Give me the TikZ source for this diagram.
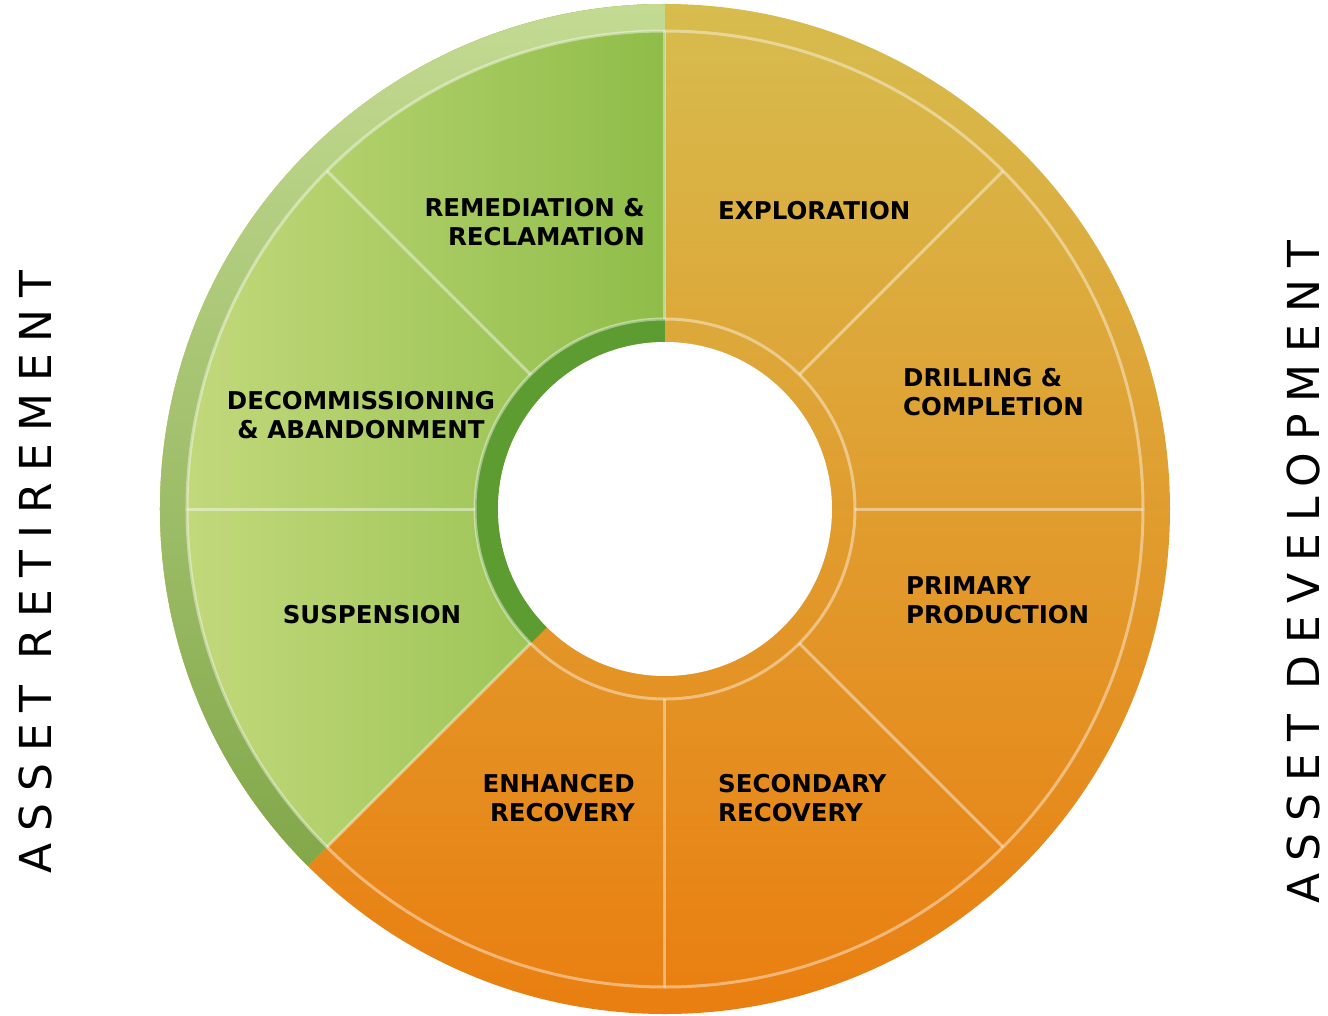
\documentclass[tikz,border=0pt]{standalone}
\usepackage{fontspec}
\setmainfont{DejaVu Sans}
\newfontfamily\sidefont[LetterSpace=27]{DejaVu Sans}
\definecolor{ortop}{HTML}{D7BC4E}
\definecolor{ormid}{HTML}{E2A030}
\definecolor{orbot}{HTML}{EA7E10}
\definecolor{grleft}{HTML}{C5DA7E}
\definecolor{grright}{HTML}{8FBD49}
\definecolor{rimtop}{HTML}{C3DA92}
\definecolor{rimbot}{HTML}{82A84A}
\definecolor{grdark}{HTML}{5C9C30}
\begin{document}
\begin{tikzpicture}[x=1pt,y=1pt,
  lab/.style={font=\fontsize{24.5}{29}\selectfont\bfseries, inner sep=0pt, text=black},
  sep/.style={white, opacity=0.42, line width=3pt},
  side/.style={font=\sidefont\fontsize{44}{50}\selectfont, rotate=90, inner sep=0pt, text=black}]
\useasboundingbox (-665,-506) rectangle (663,509);
\coordinate (c) at (0,0);
% orange ring
\shade[top color=ortop, middle color=ormid, bottom color=orbot] (c) circle (505);
% green sector
\shade[left color=grleft, right color=grright] (c) -- (90:505) arc (90:225:505) -- cycle;
% green rim
\shade[top color=rimtop, bottom color=rimbot] (90:478) arc (90:225:478) -- (225:505) arc (225:90:505) -- cycle;
% dark green inner band
\fill[grdark] (90:167) arc (90:225:167) -- (225:190) arc (225:90:190) -- cycle;
% separators
\draw[sep] (c) circle (478);
\draw[sep] (c) circle (190);
\foreach \a in {0,45,...,315} \draw[sep] (\a:190) -- (\a:478);
% hole
\fill[white] (c) circle (167);
% labels
\node[lab, anchor=east, align=right] (rem) at (-20,287) {REMEDIATION \&\\RECLAMATION};
\node[lab, anchor=west, align=left] (exp) at (53,298) {EXPLORATION};
\node[lab, anchor=west, align=left] (dri) at (238,116.5) {DRILLING \&\\COMPLETION};
\node[lab, anchor=west, align=left] (pri) at (241,-91.5) {PRIMARY\\PRODUCTION};
\node[lab, anchor=west, align=left] (sec) at (53,-289) {SECONDARY\\RECOVERY};
\node[lab, anchor=east, align=right] (enh) at (-30,-289) {ENHANCED\\RECOVERY};
\node[lab] (sus) at (-293,-106) {SUSPENSION};
\node[lab, align=center] (dec) at (-304,93.5) {DECOMMISSIONING\\\& ABANDONMENT};
\node[side] (ret) at (-630,-63) {ASSET RETIREMENT};
\node[side] (dev) at (638,-63) {ASSET DEVELOPMENT};
\end{tikzpicture}
\end{document}
